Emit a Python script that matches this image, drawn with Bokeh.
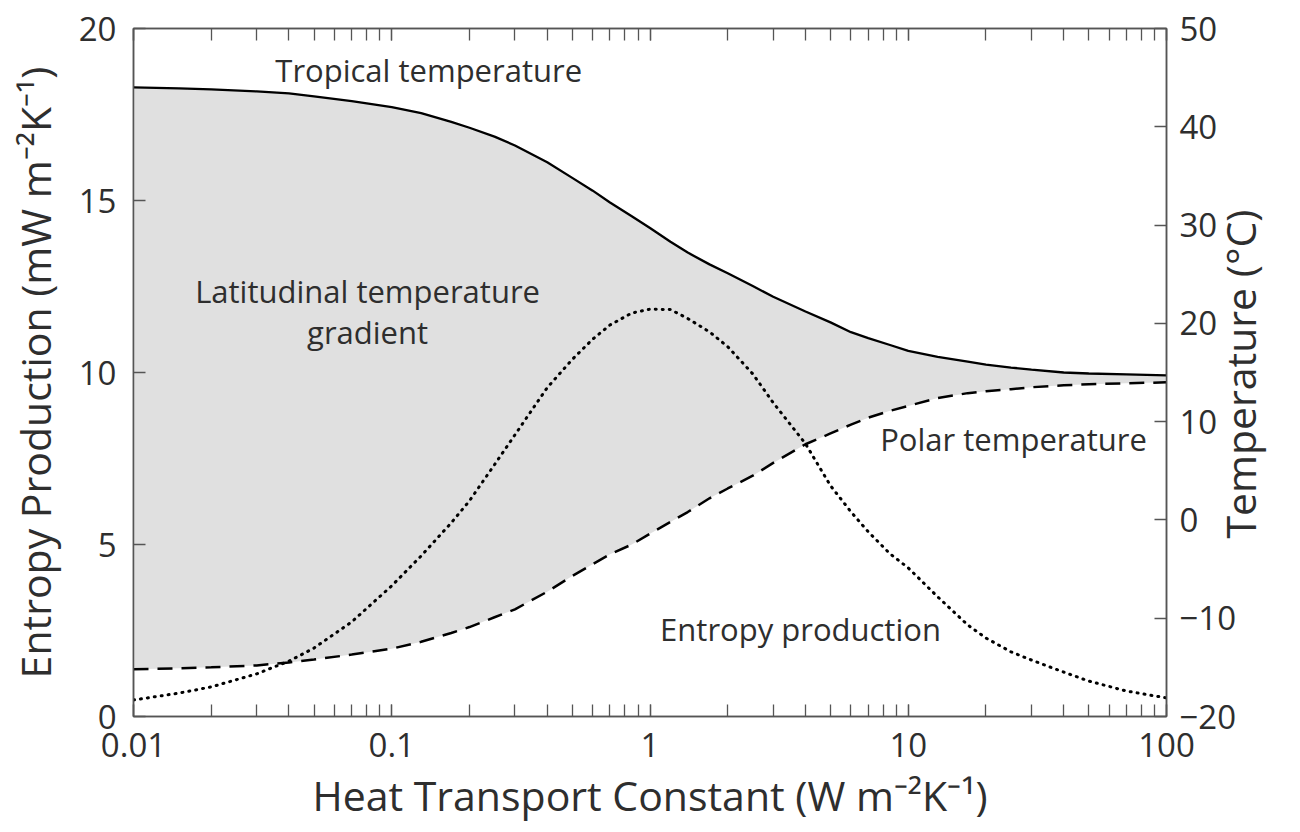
from bokeh.plotting import figure
from bokeh.models import Range1d, LinearAxis, LogAxis, LogTicker, FixedTicker, CustomJSTickFormatter, Label, ColumnDataSource
from bokeh.embed import file_html
from bokeh.resources import INLINE
import math

# ---- data ----
heat_transport = [0.01, 0.015, 0.02, 0.03, 0.04, 0.05, 0.07, 0.1, 0.13, 0.17, 0.2, 0.25, 0.3, 0.4, 0.5,
                  0.6, 0.7, 0.85, 1, 1.2, 1.4, 1.7, 2, 2.5, 3, 4, 5, 6, 7, 8.5, 10, 13, 17, 20, 25, 30,
                  40, 50, 70, 100]
tropical_temp = [44.0, 43.9, 43.8, 43.6, 43.4, 43.1, 42.6, 42.0, 41.4, 40.5, 39.9, 39.0, 38.1, 36.4, 34.8,
                 33.5, 32.3, 30.9, 29.7, 28.3, 27.2, 26.0, 25.1, 23.8, 22.7, 21.2, 20.1, 19.1, 18.5, 17.8,
                 17.2, 16.6, 16.1, 15.8, 15.5, 15.3, 15.0, 14.9, 14.8, 14.7]
polar_temp = [-15.2, -15.1, -15.0, -14.8, -14.5, -14.2, -13.7, -13.1, -12.4, -11.5, -10.9, -9.9, -9.1, -7.3,
              -5.7, -4.5, -3.5, -2.5, -1.4, -0.2, 0.8, 2.2, 3.2, 4.5, 5.8, 7.7, 8.8, 9.7, 10.4, 11.1,
              11.6, 12.4, 12.9, 13.1, 13.3, 13.5, 13.7, 13.8, 13.9, 14.0]
entropy_prod = [0.48, 0.68, 0.86, 1.24, 1.61, 1.99, 2.75, 3.80, 4.67, 5.63, 6.27, 7.32, 8.19, 9.56, 10.38,
                10.97, 11.38, 11.73, 11.84, 11.83, 11.57, 11.18, 10.75, 9.96, 9.12, 7.93, 6.71, 5.95, 5.37,
                4.73, 4.32, 3.48, 2.66, 2.28, 1.88, 1.64, 1.29, 1.03, 0.74, 0.54]

left_ticks = [0, 5, 10, 15, 20]
right_ticks = [-20, -10, 0, 10, 20, 30, 40, 50]

x_title = "Heat Transport Constant (W m\u207b\u00b2K\u207b\u00b9)"
left_title = "Entropy Production (mW m\u207b\u00b2K\u207b\u00b9)"
right_title = "Temperature (\u00b0C)"

FONT = "Open Sans"
TXT = "#2e2e2e"
AX = "#555555"

src = ColumnDataSource(dict(x=heat_transport, trop=tropical_temp, polar=polar_temp, ent=entropy_prod))

p = figure(width=1300, height=832, x_axis_type="log",
           x_range=Range1d(0.01, 100), y_range=Range1d(0, 20),
           output_backend="svg", toolbar_location=None,
           min_border_left=133, min_border_right=134, min_border_top=28, min_border_bottom=116)
p.extra_y_ranges = {"temp": Range1d(-20, 50)}
p.xgrid.visible = False
p.ygrid.visible = False
p.outline_line_color = AX
p.outline_line_width = 1.5


def style(ax, size="33px"):
    ax.axis_line_color = AX
    ax.axis_line_width = 1.5
    ax.major_tick_in = 12
    ax.major_tick_out = 0
    ax.minor_tick_in = 12
    ax.minor_tick_out = 0
    ax.major_tick_line_color = AX
    ax.minor_tick_line_color = AX
    ax.major_tick_line_width = 1.3
    ax.minor_tick_line_width = 1.3
    ax.major_label_text_font = FONT
    ax.major_label_text_font_size = size
    ax.major_label_text_color = TXT
    ax.axis_label_text_font = FONT
    ax.axis_label_text_font_size = "41px"
    ax.axis_label_text_font_style = "normal"
    ax.axis_label_text_color = TXT


xa = p.xaxis[0]
style(xa)
xa.ticker = LogTicker(num_minor_ticks=10)
xa.formatter = CustomJSTickFormatter(code="return String(Number(tick.toPrecision(6)));")
xa.major_label_standoff = 16
xa.axis_label = x_title
xa.axis_label_standoff = 7

ya = p.yaxis[0]
style(ya)
ya.ticker = FixedTicker(ticks=left_ticks)
ya.minor_tick_line_color = None
ya.major_label_standoff = 17
ya.axis_label = left_title
ya.axis_label_standoff = 13

ra = LinearAxis(y_range_name="temp", ticker=FixedTicker(ticks=right_ticks),
                formatter=CustomJSTickFormatter(code="return tick < 0 ? '\u2212' + Math.abs(tick) : String(tick);"))
style(ra)
ra.minor_tick_line_color = None
ra.major_label_standoff = 13
p.add_layout(ra, "right")

# right-hand title, drawn as the single rotated label of a bare axis (reads bottom to top)
title_anchor = [-1.9]
rt = LinearAxis(y_range_name="temp", ticker=FixedTicker(ticks=title_anchor),
                formatter=CustomJSTickFormatter(code="return %r;" % right_title))
rt.axis_line_color = None
rt.major_tick_line_color = None
rt.minor_tick_line_color = None
rt.major_tick_in = 0
rt.major_tick_out = 0
rt.major_label_orientation = math.pi / 2
rt.major_label_standoff = 1
rt.major_label_text_font = FONT
rt.major_label_text_font_size = "41px"
rt.major_label_text_color = TXT
p.add_layout(rt, "right")

ta = LogAxis(ticker=LogTicker(num_minor_ticks=10),
             formatter=CustomJSTickFormatter(code="return '';"))
style(ta)
ta.major_label_standoff = 0
p.add_layout(ta, "above")

# shaded gradient region
p.varea(x="x", y1="polar", y2="trop", source=src, y_range_name="temp", fill_color="#e0e0e0")

p.line(x="x", y="trop", source=src, y_range_name="temp", line_color="black", line_width=2.3)
p.line(x="x", y="polar", source=src, y_range_name="temp", line_color="black", line_width=2.5, line_dash="15 9")
p.line(x="x", y="ent", source=src, line_color="black", line_width=3, line_dash="1 6", line_cap="round")


def add_label(x, y, text, size="31px"):
    p.add_layout(Label(x=x, y=y, text=text,
                       text_font=FONT, text_font_size=size, text_color=TXT,
                       text_align="center", text_baseline="alphabetic"))


add_label(0.139, 18.78, "Tropical temperature")
add_label(0.0806, 12.38, "Latitudinal temperature")
add_label(0.0806, 11.19, "gradient")
add_label(25.56, 8.08, "Polar temperature")
add_label(3.826, 2.55, "Entropy production")

open("out.html", "w").write(file_html(p, INLINE))
